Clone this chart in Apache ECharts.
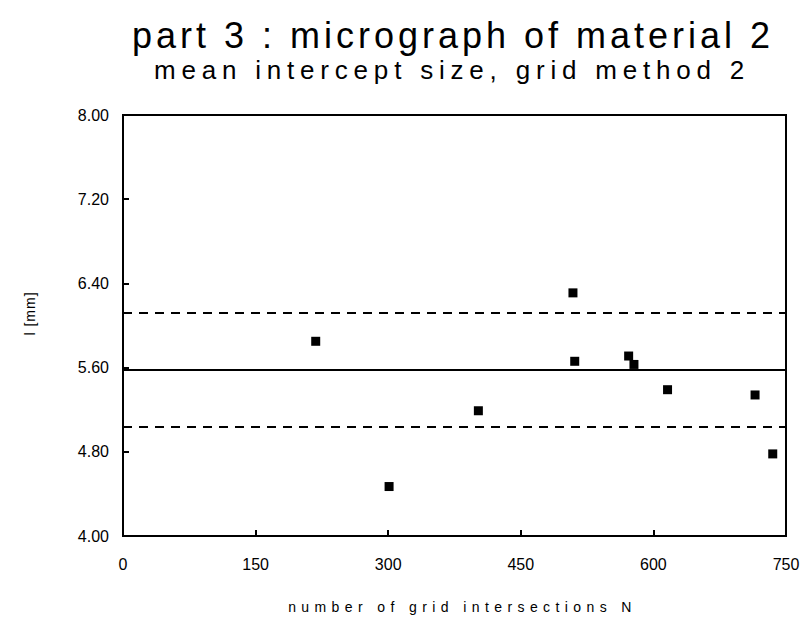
<!DOCTYPE html>
<html><head><meta charset="utf-8">
<script src="https://cdn.jsdelivr.net/npm/echarts@6/dist/echarts.min.js"></script>
<style>html,body{margin:0;padding:0;background:#fff}#c{width:807px;height:627px}</style>
</head><body><div id="c"></div>
<script>
const titleText = 'part 3 : micrograph of material 2';
const subtitleText = 'mean intercept size, grid method 2';
const xAxisName = 'number of grid intersections N';
const yAxisName = 'l [mm]';
const nValues = [218, 301, 402, 509, 511, 572, 578, 616, 715, 735];
const lValues = [5.85, 4.47, 5.19, 6.31, 5.66, 5.71, 5.63, 5.39, 5.34, 4.78];
const meanLine = 5.58;
const upperLine = 6.12;
const lowerLine = 5.04;
const xTickValues = [0, 150, 300, 450, 600, 750];
const yTickValues = [4.00, 4.80, 5.60, 6.40, 7.20, 8.00];

const FONT = '"Liberation Sans", Arial, Helvetica, sans-serif';
const chart = echarts.init(document.getElementById('c'), null, {renderer: 'svg'});
const points = nValues.map((n, i) => [n, lValues[i]]);
const option = {
  animation: false,
  backgroundColor: '#fff',
  textStyle: {fontFamily: FONT, color: '#000'},
  graphic: [
    {type: 'text', x: 453, y: 35, style: {text: titleText, fontSize: 36, fontFamily: FONT, fill: '#000', align: 'center', verticalAlign: 'middle'}},
    {type: 'text', x: 452, y: 70, style: {text: subtitleText, fontSize: 26, fontFamily: FONT, fill: '#000', align: 'center', verticalAlign: 'middle'}}
  ],
  grid: {left: 123, right: 21, top: 115, bottom: 91, show: true, borderColor: '#000', borderWidth: 2, backgroundColor: 'transparent'},
  xAxis: {
    type: 'value', min: xTickValues[0], max: xTickValues[xTickValues.length - 1], interval: 150,
    name: xAxisName, nameLocation: 'middle', nameGap: 64,
    nameTextStyle: {fontSize: 14, color: '#000', fontFamily: FONT, padding: [0, 0, 0, 16]},
    axisLine: {show: true, lineStyle: {color: '#000', width: 2}},
    axisTick: {show: true, inside: true, length: 6, lineStyle: {color: '#000', width: 2}},
    axisLabel: {fontSize: 16, color: '#000', margin: 20, fontFamily: FONT},
    splitLine: {show: false}
  },
  yAxis: {
    type: 'value', min: yTickValues[0], max: yTickValues[yTickValues.length - 1], interval: 0.8,
    name: yAxisName, nameLocation: 'middle', nameGap: 86, nameRotate: 90,
    nameTextStyle: {fontSize: 14, color: '#000', fontFamily: FONT, padding: [0, 0, 0, 24]},
    axisLine: {show: true, lineStyle: {color: '#000', width: 2}},
    axisTick: {show: true, inside: true, length: 6, lineStyle: {color: '#000', width: 2}},
    axisLabel: {fontSize: 16, color: '#000', margin: 14, fontFamily: FONT, formatter: v => v.toFixed(2)},
    splitLine: {show: false}
  },
  series: [{
    type: 'scatter',
    data: points,
    symbol: 'rect',
    symbolSize: 9,
    itemStyle: {color: '#000', opacity: 1},
    markLine: {
      silent: true,
      symbol: 'none',
      label: {show: false},
      data: [
        {yAxis: meanLine, lineStyle: {type: 'solid', color: '#000', width: 2, opacity: 1}},
        {yAxis: upperLine, lineStyle: {type: [9, 7], color: '#000', width: 2, opacity: 1}},
        {yAxis: lowerLine, lineStyle: {type: [9, 7], color: '#000', width: 2, opacity: 1}}
      ]
    }
  }]
};
chart.setOption(option);

const spacing = {};
spacing[titleText] = '4px';
spacing[subtitleText] = '5.8px';
spacing[xAxisName] = '5.4px';
spacing[yAxisName] = '1px';
function applySpacing() {
  document.querySelectorAll('#c svg text').forEach(t => {
    const s = spacing[t.textContent];
    t.setAttribute('letter-spacing', s !== undefined ? s : '0px');
  });
}
chart.on('finished', applySpacing);
applySpacing();
setTimeout(applySpacing, 50);
</script></body></html>
